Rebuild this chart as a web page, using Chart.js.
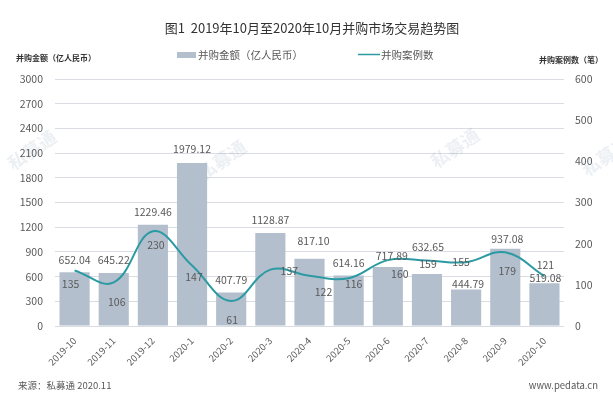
<!DOCTYPE html>
<html>
<head>
<meta charset="utf-8">
<script src="https://cdn.jsdelivr.net/npm/chart.js@4.4.1/dist/chart.umd.min.js"></script>
<style>
  html, body { margin: 0; padding: 0; background: #fff; }
  #wrap { width: 613px; height: 396px; position: relative; }
</style>
</head>
<body>
<div id="wrap"><canvas id="chart" width="613" height="396"></canvas></div>
<script>
const months = ["2019-10", "2019-11", "2019-12", "2020-1", "2020-2", "2020-3", "2020-4",
  "2020-5", "2020-6", "2020-7", "2020-8", "2020-9", "2020-10"];
const amounts = [652.04, 645.22, 1229.46, 1979.12, 407.79, 1128.87, 817.10,
  614.16, 717.89, 632.65, 444.79, 937.08, 519.08];
const cases = [135, 106, 230, 147, 61, 137, 122, 116, 160, 159, 155, 179, 121];
const amountTicks = [0, 300, 600, 900, 1200, 1500, 1800, 2100, 2400, 2700, 3000];
const caseTicks = [0, 100, 200, 300, 400, 500, 600];

const FONT = '"Noto Sans CJK SC", "Noto Sans", sans-serif';
const TEXT = "#595959";

// label nudges (px)
const barLabelDy = [-12, -13, -13, -14, -12, -13, -18, -12, -11, -27, -5, -10, -5];
const barLabelDx = [0, 0, 0, 0, 0, 0, 4, 0, 4, 1, 2, 2, 1];
const lineLabelDy = [14, 20, 14, 12, 19, 1, 16, 6, 14, 3, 0, 19, -11];
const lineLabelDx = [-4, 3, 3, 2, 1, 19, 14, 5, 12, 1, -5, 2, 1];

const extras = {
  id: "extras",
  beforeDatasetsDraw(chart) {
    // faint watermarks behind the bars
    const ctx = chart.ctx;
    ctx.save();
    ctx.fillStyle = "rgba(120,140,170,0.14)";
    ctx.font = "bold 18px " + FONT;
    ctx.textAlign = "center";
    ctx.textBaseline = "middle";
    [[32, 150], [222, 160], [455, 148], [606, 156]].forEach(([x, y]) => {
      ctx.save();
      ctx.translate(x, y);
      ctx.rotate(-0.6);
      ctx.fillText("私募通", 0, 0);
      ctx.restore();
    });
    ctx.restore();
  },
  afterDatasetsDraw(chart) {
    const ctx = chart.ctx;
    ctx.save();
    ctx.font = "10.5px " + FONT;
    ctx.fillStyle = TEXT;
    ctx.textAlign = "center";
    ctx.textBaseline = "middle";
    chart.getDatasetMeta(0).data.forEach((el, i) => {
      ctx.fillText(amounts[i].toFixed(2), el.x + barLabelDx[i], el.y + barLabelDy[i]);
    });
    chart.getDatasetMeta(1).data.forEach((el, i) => {
      ctx.fillText(String(cases[i]), el.x + lineLabelDx[i], el.y + lineLabelDy[i]);
    });
    ctx.restore();
  },
  afterDraw(chart) {
    const ctx = chart.ctx;
    ctx.save();
    ctx.textBaseline = "middle";
    // title
    ctx.fillStyle = "#333";
    ctx.font = "13px " + FONT;
    ctx.textAlign = "center";
    ctx.fillText("图1  2019年10月至2020年10月并购市场交易趋势图", 312, 28);

    // legend
    ctx.font = "10.5px " + FONT;
    ctx.fillStyle = "#b4bfcd";
    ctx.fillRect(177, 52, 19, 6);
    ctx.fillStyle = TEXT;
    ctx.textAlign = "left";
    ctx.fillText("并购金额（亿人民币）", 198, 55);
    ctx.strokeStyle = "#2b9aa3";
    ctx.lineWidth = 1.5;
    ctx.beginPath();
    ctx.moveTo(358, 54.5);
    ctx.lineTo(380, 54.5);
    ctx.stroke();
    ctx.fillText("并购案例数", 381, 55);

    // axis titles
    ctx.fillStyle = "#333";
    ctx.font = "bold 8px " + FONT;
    ctx.textAlign = "left";
    ctx.fillText("并购金额（亿人民币）", 16, 58);
    ctx.textAlign = "right";
    ctx.fillText("并购案例数（笔）", 603, 60);

    // footer
    ctx.fillStyle = TEXT;
    ctx.font = "9.5px " + FONT;
    ctx.textAlign = "left";
    ctx.fillText("来源：私募通 2020.11", 18, 385);
    ctx.textAlign = "right";
    ctx.fillText("www.pedata.cn", 598, 385);
    ctx.restore();
  }
};

new Chart(document.getElementById("chart"), {
  type: "bar",
  data: {
    labels: months,
    datasets: [
      {
        label: "并购金额（亿人民币）",
        data: amounts,
        backgroundColor: "#b4bfcd",
        barPercentage: 0.77,
        categoryPercentage: 1,
        yAxisID: "y",
        order: 2,
      },
      {
        type: "line",
        label: "并购案例数",
        data: cases,
        borderColor: "#2b9aa3",
        borderWidth: 2,
        pointRadius: 0,
        tension: 0.4,
        fill: false,
        yAxisID: "y1",
        order: 1,
      },
    ],
  },
  options: {
    responsive: false,
    animation: false,
    devicePixelRatio: 1,
    layout: { padding: { top: 79, bottom: 0, left: 0, right: 0 } },
    plugins: {
      legend: { display: false },
      title: { display: false },
      tooltip: { enabled: false },
    },
    scales: {
      x: {
        grid: { display: false, drawTicks: false },
        border: { display: false },
        ticks: {
          color: TEXT,
          font: { family: FONT, size: 9.5 },
          minRotation: 45,
          maxRotation: 45,
          padding: 9,
        },
        afterFit(scale) { scale.height = 70; },
      },
      y: {
        position: "left",
        min: 0,
        max: 3000,
        afterBuildTicks(scale) { scale.ticks = amountTicks.map(v => ({ value: v })); },
        grid: { color: "#d9dde3", drawTicks: false },
        border: { display: false },
        ticks: {
          color: TEXT,
          font: { family: FONT, size: 10.5 },
          padding: 12,
          callback: (v) => String(v),
        },
        afterFit(scale) { scale.width = 55; },
      },
      y1: {
        position: "right",
        min: 0,
        max: 600,
        afterBuildTicks(scale) { scale.ticks = caseTicks.map(v => ({ value: v })); },
        grid: { drawOnChartArea: false, drawTicks: false },
        border: { display: false },
        ticks: {
          color: TEXT,
          font: { family: FONT, size: 10.5 },
          padding: 11,
          callback: (v) => String(v),
        },
        afterFit(scale) { scale.width = 49; },
      },
    },
  },
  plugins: [extras],
});
</script>
</body>
</html>
